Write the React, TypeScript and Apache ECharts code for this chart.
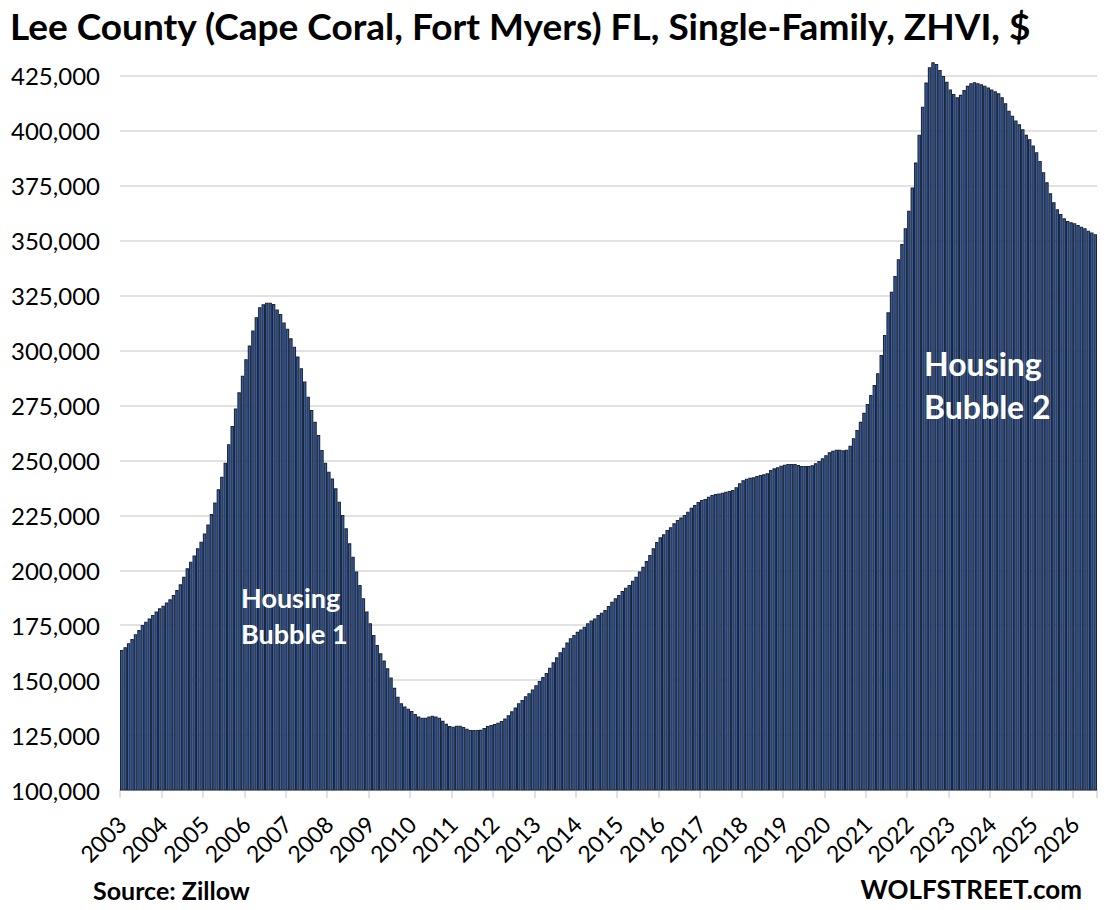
import React, { useEffect, useRef } from "react";
import * as echarts from "echarts";

// Tick-label years (one per January)
const years = [
  "2003", "2004", "2005", "2006", "2007", "2008", "2009", "2010", "2011", "2012", "2013", "2014",
  "2015", "2016", "2017", "2018", "2019", "2020", "2021", "2022", "2023", "2024", "2025", "2026",
];

// Monthly ZHVI values, in thousands of $
const y2003 = [163.7, 165, 166.8, 168.7, 170.9, 172.8, 175.1, 176.6, 178.1, 179.7, 181.2, 182.7];
const y2004 = [183.9, 185.3, 186.8, 188.8, 191, 193.6, 197.1, 200.9, 203.9, 206.7, 210, 213];
const y2005 = [216.8, 220.9, 225.6, 230.9, 236.9, 242.6, 249, 257.4, 265.7, 273.7, 281, 288.6];
const y2006 = [296.1, 302.3, 309.1, 315.2, 319.7, 321.1, 321.8, 321.8, 321.2, 318.7, 316.7, 312.8];
const y2007 = [310, 305.6, 301.8, 297.3, 292, 285.9, 279, 273, 267.6, 261.6, 254.8, 249];
const y2008 = [244.9, 241.8, 237.3, 231.2, 225.2, 219.1, 212.3, 206.2, 199.4, 193.3, 187.3, 181.2];
const y2009 = [175.9, 170.6, 166, 162.2, 158.9, 155.4, 151.2, 146.5, 142.5, 139.5, 138, 137];
const y2010 = [136, 134.6, 133.4, 132.9, 132.9, 133.4, 133.8, 133.4, 132.9, 131.5, 130.1, 129.1];
const y2011 = [128.8, 129.3, 129.3, 128.7, 127.9, 127.3, 127.3, 127.3, 127.4, 128.2, 129.1, 129.6];
const y2012 = [130, 130.6, 131.4, 132.5, 134, 135.8, 137.6, 139.5, 141, 142.7, 144, 145.8];
const y2013 = [147.7, 149.6, 151.4, 153.3, 155.7, 158.1, 160.4, 162.7, 164.8, 167.1, 169.1, 170.6];
const y2014 = [172, 173.1, 174.3, 175.9, 177.1, 178.1, 179.7, 180.7, 181.9, 183.8, 185.7, 187.3];
const y2015 = [188.8, 190.6, 192.1, 193.3, 195.3, 197.1, 199.4, 201.6, 204.2, 207, 210, 212.9];
const y2016 = [215, 216.4, 218.4, 219.6, 221.4, 222.9, 224, 225.2, 226.7, 228.5, 229.7, 231.1];
const y2017 = [232, 232.5, 233.5, 234.3, 234.7, 235, 235.3, 235.8, 236.1, 236.6, 237.8, 239.6];
const y2018 = [241, 241.7, 242.1, 242.3, 242.9, 243.4, 243.7, 244.2, 245.7, 246.4, 246.9, 247.6];
const y2019 = [248.1, 248.4, 248.4, 248.4, 247.9, 247.5, 247.5, 247.5, 247.8, 248.7, 249.8, 251];
const y2020 = [252.4, 253.7, 254.4, 254.9, 254.9, 254.6, 254.9, 256.7, 260.1, 263.9, 267.6, 271.7];
const y2021 = [275.7, 279.8, 284.3, 289.7, 298, 307.1, 317.4, 326.8, 334, 341.6, 348.5, 355.7];
const y2022 = [363.7, 374.2, 385.6, 398.3, 411, 422, 429, 431.2, 430.5, 427.7, 425, 422.4];
const y2023 = [418.9, 416.8, 415.3, 416.4, 418.6, 420.5, 421.7, 422.2, 421.7, 421.2, 420.6, 419.7];
const y2024 = [418.9, 418, 417.1, 415.3, 412.6, 409.2, 406.9, 404.7, 403, 400.8, 398.2, 396.2];
const y2025 = [393.3, 390.3, 386.3, 381.2, 376.6, 371.6, 367.5, 364.3, 362.2, 360.2, 359, 358.4];
const y2026 = [358, 357.2, 356.4, 355.7, 354.6, 353.7, 353];

const yearly = [
  y2003, y2004, y2005, y2006, y2007, y2008, y2009, y2010, y2011, y2012, y2013, y2014,
  y2015, y2016, y2017, y2018, y2019, y2020, y2021, y2022, y2023, y2024, y2025, y2026,
];

const categories: string[] = [];
const values: number[] = [];
yearly.forEach((arr, yi) => {
  arr.forEach((v, mi) => {
    categories.push(years[yi] + "-" + String(mi + 1).padStart(2, "0"));
    values.push(v * 1000);
  });
});

const FONT = "Lato, 'Open Sans', 'DejaVu Sans', sans-serif";

export default function App() {
  const ref = useRef<HTMLDivElement>(null);
  useEffect(() => {
    if (!ref.current) return;
    const chart = echarts.init(ref.current, undefined, { renderer: "svg" });
    const isJan = (i: number) => i % 12 === 0;
    chart.setOption({
      animation: false,
      backgroundColor: "#ffffff",
      title: {
        text: "Lee County (Cape Coral, Fort Myers) FL, Single-Family, ZHVI, $",
        left: 5,
        top: 2,
        textStyle: { fontFamily: FONT, fontSize: 37, fontWeight: "bold", color: "#000000" },
      },
      grid: { left: 120, right: 12, top: 60.6, bottom: 120 },
      xAxis: {
        type: "category",
        data: categories,
        boundaryGap: true,
        axisLine: { show: true, lineStyle: { color: "#d9d9d9", width: 1.5 } },
        axisTick: {
          show: true,
          interval: (i: number) => isJan(i),
          length: 8,
          lineStyle: { color: "#d9d9d9", width: 1.5 },
        },
        axisLabel: {
          interval: (i: number) => isJan(i),
          formatter: (v: string) => v.slice(0, 4),
          rotate: 45,
          margin: 30,
          fontFamily: FONT,
          fontSize: 23,
          color: "#000000",
        },
        splitLine: { show: false },
      },
      yAxis: {
        type: "value",
        min: 100000,
        max: 432000,
        interval: 25000,
        axisLine: { show: false },
        axisTick: { show: false },
        axisLabel: {
          margin: 20,
          fontFamily: FONT,
          fontSize: 24,
          color: "#000000",
          showMaxLabel: false,
          formatter: (v: number) => (v % 25000 === 0 ? v.toLocaleString("en-US") : ""),
        },
        splitLine: {
          show: true,
          showMaxLine: false,
          lineStyle: { color: "#d9d9d9", width: 1.5 },
        },
      },
      series: [
        {
          type: "bar",
          data: values,
          barCategoryGap: "0%",
          itemStyle: { color: "#3361b0", borderColor: "#1e2636", borderWidth: 1.1 },
        },
      ],
      graphic: [
        {
          type: "text",
          z: 100,
          style: {
            text: "Housing\nBubble 1",
            x: 241,
            y: 579,
            font: "bold 27px " + FONT,
            lineHeight: 36,
            fill: "#ffffff",
          },
        },
        {
          type: "text",
          z: 100,
          style: {
            text: "Housing\nBubble 2",
            x: 924,
            y: 342,
            font: "bold 32px " + FONT,
            lineHeight: 43,
            fill: "#ffffff",
          },
        },
        {
          type: "text",
          style: {
            text: "Source: Zillow",
            x: 93,
            y: 890,
            textVerticalAlign: "middle",
            font: "bold 25px " + FONT,
            fill: "#000000",
          },
        },
        {
          type: "text",
          style: {
            text: "WOLFSTREET.com",
            x: 1082,
            y: 889,
            textAlign: "right",
            textVerticalAlign: "middle",
            font: "bold 26px " + FONT,
            fill: "#000000",
          },
        },
      ],
    });
    return () => chart.dispose();
  }, []);
  return (
    <div
      ref={ref}
      style={{ position: "fixed", left: 0, top: 0, width: 1109, height: 910, background: "#fff" }}
    />
  );
}
